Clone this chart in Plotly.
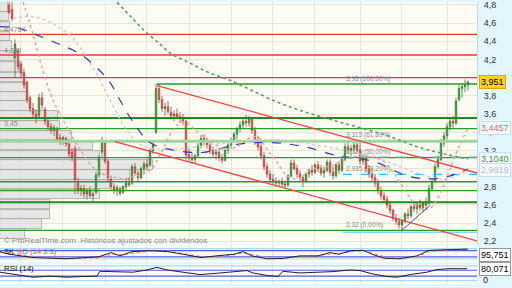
import plotly.graph_objects as go

# ---------------- price data (one entry per session, index 0..153) ----------------
opens = [4.80,4.75,4.22,4.30,4.15,4.05,3.95,3.78,3.66,3.60,3.58,3.78,3.65,3.52,3.46,3.42,3.44,3.34,3.30,3.33,
         3.27,3.18,3.22,2.86,2.76,2.78,2.72,2.75,2.70,2.74,2.93,3.18,3.28,3.08,2.88,2.80,2.76,2.78,2.74,2.80,
         2.84,2.84,3.02,2.95,2.90,3.00,3.05,3.04,3.20,3.40,3.88,3.76,3.66,3.68,3.62,3.58,3.60,3.57,3.56,3.52,
         3.15,3.12,3.10,3.14,3.25,3.33,3.30,3.26,3.20,3.16,3.18,3.12,3.09,3.20,3.26,3.30,3.38,3.44,3.48,3.52,
         3.50,3.54,3.42,3.30,3.24,3.14,3.02,2.94,2.88,2.86,2.84,2.86,2.83,2.82,2.92,3.06,3.00,2.94,2.90,2.86,
         2.94,2.98,2.96,3.04,3.00,2.95,2.98,3.07,2.96,2.92,3.04,2.98,3.10,3.24,3.20,3.22,3.26,3.20,3.08,3.12,
         3.00,2.94,2.90,2.84,2.76,2.70,2.66,2.60,2.54,2.45,2.42,2.38,2.42,2.50,2.48,2.58,2.56,2.60,2.57,2.62,
         2.62,2.78,2.86,3.02,3.10,3.28,3.36,3.46,3.52,3.50,3.76,3.88,3.90,3.92]
highs = [4.85,4.83,4.42,4.32,4.18,4.10,3.97,3.80,3.72,3.65,3.82,3.84,3.68,3.56,3.50,3.48,3.46,3.38,3.36,3.35,
         3.30,3.22,3.25,2.90,2.82,2.82,2.78,2.80,2.74,2.96,3.15,3.35,3.30,3.10,2.92,2.84,2.82,2.80,2.82,2.88,
         2.90,3.05,3.06,2.98,3.02,3.08,3.10,3.22,3.30,3.93,3.93,3.80,3.72,3.74,3.68,3.64,3.66,3.62,3.60,3.54,
         3.22,3.18,3.16,3.28,3.36,3.38,3.34,3.30,3.24,3.22,3.20,3.16,3.22,3.28,3.34,3.40,3.46,3.52,3.56,3.59,
         3.58,3.56,3.46,3.36,3.30,3.18,3.06,2.98,2.94,2.90,2.88,2.90,2.86,2.94,3.10,3.10,3.04,2.98,2.93,2.96,
         3.00,3.04,3.06,3.08,3.04,3.02,3.10,3.10,3.02,3.06,3.08,3.14,3.28,3.30,3.26,3.30,3.30,3.28,3.16,3.14,
         3.04,3.00,2.94,2.88,2.80,2.74,2.70,2.62,2.56,2.50,2.46,2.44,2.52,2.56,2.60,2.64,2.62,2.66,2.64,2.68,
         2.82,2.88,3.06,3.14,3.32,3.40,3.50,3.56,3.58,3.78,3.92,3.94,3.98,3.97]
lows = [4.70,4.62,4.00,4.08,4.00,3.88,3.72,3.62,3.55,3.50,3.55,3.66,3.48,3.42,3.38,3.36,3.30,3.26,3.26,3.24,
        3.12,3.08,2.72,2.72,2.70,2.68,2.66,2.68,2.64,2.72,2.90,3.12,3.05,2.85,2.76,2.72,2.70,2.70,2.72,2.76,
        2.80,2.82,2.92,2.86,2.88,2.94,2.98,3.02,3.16,3.38,3.72,3.62,3.58,3.60,3.54,3.52,3.55,3.50,3.48,3.10,
        3.08,3.05,3.06,3.12,3.22,3.26,3.22,3.16,3.12,3.10,3.08,3.06,3.08,3.16,3.22,3.28,3.32,3.40,3.44,3.46,
        3.46,3.38,3.26,3.20,3.10,2.98,2.90,2.84,2.82,2.80,2.80,2.80,2.78,2.80,2.90,2.98,2.90,2.86,2.80,2.84,
        2.90,2.92,2.94,2.96,2.92,2.90,2.96,2.92,2.88,2.90,2.94,2.96,3.08,3.16,3.14,3.18,3.18,3.04,3.04,2.96,
        2.90,2.86,2.80,2.72,2.66,2.62,2.56,2.50,2.42,2.38,2.34,2.31,2.40,2.44,2.46,2.52,2.50,2.54,2.52,2.56,
        2.60,2.76,2.84,3.00,3.08,3.24,3.32,3.42,3.44,3.48,3.74,3.78,3.84,3.86]
closes = [4.72,4.65,4.37,4.12,4.05,3.92,3.76,3.66,3.60,3.55,3.78,3.70,3.52,3.46,3.42,3.45,3.33,3.30,3.34,3.27,
          3.16,3.12,2.88,2.76,2.78,2.72,2.75,2.70,2.72,2.93,3.12,3.30,3.08,2.90,2.80,2.76,2.79,2.73,2.80,2.84,
          2.82,3.02,2.95,2.90,3.00,3.05,3.02,3.20,3.26,3.88,3.76,3.66,3.68,3.63,3.58,3.60,3.57,3.55,3.52,3.15,
          3.12,3.10,3.14,3.25,3.33,3.30,3.26,3.20,3.16,3.18,3.12,3.09,3.20,3.26,3.30,3.38,3.44,3.48,3.52,3.50,
          3.55,3.42,3.30,3.24,3.14,3.02,2.94,2.88,2.86,2.84,2.86,2.83,2.82,2.92,3.06,3.00,2.94,2.90,2.86,2.94,
          2.98,2.96,3.04,3.00,2.95,2.98,3.07,2.96,2.92,3.04,2.98,3.10,3.24,3.20,3.22,3.26,3.20,3.08,3.12,3.00,
          2.94,2.90,2.84,2.76,2.70,2.66,2.60,2.54,2.45,2.42,2.38,2.42,2.50,2.48,2.58,2.56,2.60,2.57,2.62,2.60,
          2.78,2.86,3.02,3.10,3.28,3.36,3.46,3.52,3.50,3.74,3.88,3.90,3.92,3.951]
sessions = list(range(len(closes)))

# ---------------- moving averages (session, price) ----------------
ma_green_x = [36, 40.3, 45.3, 50.3, 53.7, 60.3, 67, 73.7, 80.3, 88, 97, 110.3, 125.3, 137, 145.3, 153]
ma_green_y = [4.83, 4.68, 4.51, 4.37, 4.27, 4.16, 4.05, 3.97, 3.87, 3.75, 3.64, 3.51, 3.37, 3.23, 3.16, 3.104]
ma_blue_x = [-3, 3.7, 8.7, 16, 23.7, 30.3, 33.7, 37, 42, 47, 53.7, 64.7, 76, 87, 98, 110.3, 121.3, 132.7, 140.3, 147, 153]
ma_blue_y = [4.562, 4.54, 4.476, 4.378, 4.26, 4.076, 3.946, 3.751, 3.481, 3.286, 3.21, 3.178, 3.265, 3.286,
             3.243, 3.135, 3.081, 2.919, 2.886, 2.919, 2.995]
ma_grey_x = [1.3, 8, 14.7, 21.3, 28, 33.7, 38.7, 43.7, 50.3, 60.3, 73.7, 87, 97, 110.3, 123.7, 137, 145.3, 153]
ma_grey_y = [4.649, 4.67, 4.594, 4.432, 4.108, 3.751, 3.449, 3.265, 3.211, 3.232, 3.286, 3.319, 3.286, 3.211,
             3.103, 2.94, 2.886, 2.9819]
ma_pink_x = [4.7, 8, 11.3, 14.7, 18, 21.3, 24.7, 28, 31.3, 34.7, 38, 41.3, 44.7, 48, 51.3, 54.7, 58, 61.3, 64.7,
             68, 71.3, 76, 79.3, 82.7, 86, 89.3, 92.7, 96, 101.3, 107, 110.3, 116, 123.7, 128, 132.7, 137,
             140.3, 143.7, 147, 150.3, 153]
ma_pink_y = [4.832, 4.476, 4.076, 3.751, 3.535, 3.34, 3.157, 3.016, 2.94, 2.908, 2.886, 2.908, 2.94, 3.016,
             3.211, 3.427, 3.513, 3.449, 3.351, 3.286, 3.211, 3.243, 3.319, 3.351, 3.211, 3.07, 2.919, 2.886,
             2.994, 3.027, 3.07, 3.135, 3.103, 2.962, 2.724, 2.562, 2.562, 2.724, 2.994, 3.265, 3.4457]

# ---------------- horizontal levels ----------------
red_levels = [4.4764, 4.249, 4.00]
green_levels = [3.557, 3.44, 3.12, 2.855, 2.757, 2.32]
green_thick_levels = [3.557, 2.63]
light_green_level = 3.30
fib_prices = [3.93, 3.315, 3.125, 2.935, 2.32]
fib_labels = ["3,93 (100,00%)", "3,315 (61,80%)", "3,125 (50,00%)", "2,935 (38,20%)", "2,32 (0,00%)"]
fib_start = 111.3
peak_session = 49.3

# channel & trend lines (session, price) endpoints
chan_up_x = [49.3, 156]
chan_up_y = [3.913, 2.951]
chan_lo_x = [35.3, 156]
chan_lo_y = [3.297, 2.205]
trend_x = [130.7, 140.3]
trend_y = [2.313, 2.594]

# volume profile (price level, relative volume)
vp_price = [4.778, 4.67, 4.562, 4.454, 4.346, 4.238, 4.119, 4.0, 3.892, 3.795, 3.686, 3.578, 3.47, 3.362,
            3.254, 3.146, 3.038, 2.93, 2.822, 2.713, 2.605, 2.497, 2.389, 2.281]
vp_volume = [2.7, 3, 3.3, 3.3, 4, 4.7, 6.7, 8.3, 9, 9.3, 10, 19.3, 20, 24, 31, 33.3, 51, 43.3, 36.7, 33.3,
             16.7, 16.7, 14, 8.3]

# ---------------- indicators ----------------
stoch_x = [-3, 0, 8, 19, 30, 34, 37, 41, 47, 53, 58, 64, 69, 75, 78, 81, 86, 91, 97, 103, 107, 110, 114, 118,
           121, 125, 130, 136, 140, 147, 153]
stoch_k = [71, 46, 14, 2, 21, 62, 30, 71, 81, 71, 46, 14, 30, 46, 71, 30, 2, 5, 30, 30, 62, 46, 81, 84, 46, 8,
           2, 30, 84, 90, 95.751]
stoch_d = [65, 55, 22, 6, 12, 45, 42, 55, 78, 76, 55, 24, 22, 40, 60, 45, 12, 4, 20, 30, 50, 52, 70, 82, 60,
           20, 5, 20, 70, 88, 94]
rsi_x = [-3, 2.7, 8, 13.7, 19.3, 24.7, 29.3, 30.3, 36, 41.3, 46, 49.3, 52.7, 58, 63.7, 69.3, 74.7, 79.3, 81.3,
         86, 89.7, 91.3, 97, 102.7, 108, 113.7, 117, 121.3, 126, 129.3, 133.7, 139.3, 142.7, 147, 152.7]
rsi_v = [57, 39, 23, 30, 23, 28, 30, 63, 61, 57, 72, 90, 72, 57, 41, 50, 57, 68, 52, 35, 28, 63, 52, 57, 61,
         72, 68, 45, 28, 23, 41, 57, 75, 81, 80.071]

price_ticks = [4.8, 4.6, 4.4, 4.2, 4.0, 3.8, 3.6, 3.4, 3.2, 3.0, 2.8, 2.6, 2.4, 2.2]
price_tick_text = ["4,8", "4,6", "4,4", "4,2", "4", "3,8", "3,6", "3,4", "3,2", "3", "2,8", "2,6", "2,4", "2,2"]
grid_sessions = [3.7, 17.7, 32, 45.7, 60.3, 74.3, 87.7, 101.7, 117, 130.7, 146]

X0, X1 = -3, 156
FONT = "Liberation Sans"

fig = go.Figure()

# volume profile
fig.add_trace(go.Bar(orientation="h", y=vp_price, x=vp_volume, base=X0, width=0.104,
                     marker=dict(color="rgba(222,222,222,0.72)", line=dict(color="#a4a4a4", width=0.8)),
                     xaxis="x", yaxis="y", hoverinfo="skip", showlegend=False))

def hline(price, color, width, x0=X0, dash="solid"):
    fig.add_trace(go.Scatter(x=[x0, X1], y=[price, price], mode="lines",
                             line=dict(color=color, width=width, dash=dash),
                             xaxis="x", yaxis="y", hoverinfo="skip", showlegend=False))

for p in red_levels:
    hline(p, "#e8393a", 1.4)
hline(light_green_level, "#9fd39f", 3)
for p in green_levels:
    hline(p, "#2b9a2b", 1.3)
for p in green_thick_levels:
    hline(p, "#1f8a1f", 2)
hline(fib_prices[0], "#2b9a2b", 1.3, x0=peak_session)
hline(fib_prices[2], "#4ab8ee", 1.2, x0=fib_start, dash="dash")
hline(fib_prices[3], "#4ab8ee", 1.2, x0=fib_start, dash="dash")
hline(2.30, "#8fd3f2", 1.5, x0=fib_start)

# moving averages
def ma(xs, ys, color, dash="dot", width=1.3):
    fig.add_trace(go.Scatter(x=xs, y=ys, mode="lines", line=dict(color=color, width=width, dash=dash, shape="spline"),
                             xaxis="x", yaxis="y", hoverinfo="skip", showlegend=False))

ma(ma_green_x, ma_green_y, "#5a9e6a", "dot", 1.6)
ma(ma_grey_x, ma_grey_y, "#cfcfcf", "dot", 1.5)
ma(ma_blue_x, ma_blue_y, "#3b3bb0", "dash", 1.2)
ma(ma_pink_x, ma_pink_y, "#f09a9a", "dot", 1.4)

# channel / trend
fig.add_trace(go.Scatter(x=chan_up_x, y=chan_up_y, mode="lines", line=dict(color="#ee4444", width=1.3),
                         xaxis="x", yaxis="y", hoverinfo="skip", showlegend=False))
fig.add_trace(go.Scatter(x=chan_lo_x, y=chan_lo_y, mode="lines", line=dict(color="#ee4444", width=1.3),
                         xaxis="x", yaxis="y", hoverinfo="skip", showlegend=False))
fig.add_trace(go.Scatter(x=trend_x, y=trend_y, mode="lines", line=dict(color="#4a4ad0", width=1),
                         xaxis="x", yaxis="y", hoverinfo="skip", showlegend=False))

# candles
fig.add_trace(go.Candlestick(x=sessions, open=opens, high=highs, low=lows, close=closes,
                             increasing=dict(line=dict(color="#2d7d2d", width=0.8), fillcolor="#4fb04f"),
                             decreasing=dict(line=dict(color="#b83838", width=0.8), fillcolor="#ee6e6e"),
                             whiskerwidth=0, xaxis="x", yaxis="y", hoverinfo="skip", showlegend=False))

# stochastic panel
for lv, col in [(100, "#a9dcf2"), (80, "#5a5ae0"), (20, "#5a5ae0"), (0, "#a9dcf2")]:
    fig.add_trace(go.Scatter(x=[X0, X1], y=[lv, lv], mode="lines", line=dict(color=col, width=1.2),
                             xaxis="x2", yaxis="y2", hoverinfo="skip", showlegend=False))
fig.add_trace(go.Scatter(x=stoch_x, y=stoch_d, mode="lines", line=dict(color="#f08080", width=1.2, dash="dot"),
                         xaxis="x2", yaxis="y2", hoverinfo="skip", showlegend=False))
fig.add_trace(go.Scatter(x=stoch_x, y=stoch_k, mode="lines", line=dict(color="#222222", width=1),
                         xaxis="x2", yaxis="y2", hoverinfo="skip", showlegend=False))

# RSI panel
for lv, col in [(100, "#a9dcf2"), (70, "#5a5ae0"), (30, "#5a5ae0"), (0, "#a9dcf2")]:
    fig.add_trace(go.Scatter(x=[X0, X1], y=[lv, lv], mode="lines", line=dict(color=col, width=1.2),
                             xaxis="x3", yaxis="y3", hoverinfo="skip", showlegend=False))
fig.add_trace(go.Scatter(x=rsi_x, y=rsi_v, mode="lines", line=dict(color="#222222", width=1),
                         xaxis="x3", yaxis="y3", hoverinfo="skip", showlegend=False))

grid_col = "#e6e6dc"
xcommon = dict(range=[X0, X1], showticklabels=False, tickvals=grid_sessions, showgrid=True,
               gridcolor=grid_col, gridwidth=1, zeroline=False, ticks="", showline=False, fixedrange=True)

ann = []
def txt(x, y, s, color="#8a8a8a", size=7, xref="x", yref="y", xanchor="left", yanchor="bottom", **kw):
    ann.append(dict(x=x, y=y, text=s, xref=xref, yref=yref, xanchor=xanchor, yanchor=yanchor,
                    showarrow=False, font=dict(family=FONT, size=size, color=color), **kw))

txt(-2.4, 4.4764, "4,4764", yshift=-1)
txt(-2.4, 4.249, "4,249", yshift=-1)
txt(-2.4, 3.45, "3,45", yshift=-1)
for p, s in zip(fib_prices, fib_labels):
    txt(fib_start + 0.5, p, s, size=6.5, yshift=-1)
txt(-2.4, 2.205, "© ProRealTime.com  Históricos ajustados con dividendos", size=8, yanchor="middle",
    color="#8a8a8a")

# right-side value boxes
def box(y, s, fg, bg, border, yref="y"):
    ann.append(dict(x=1, xref="paper", y=y, yref=yref, xanchor="left", yanchor="middle", xshift=2,
                    text=s, showarrow=False, bgcolor=bg, bordercolor=border, borderwidth=1, borderpad=1,
                    font=dict(family=FONT, size=9, color=fg)))

box(3.951, "3,951", "#000000", "#ffd21a", "#d6a800")
box(3.4457, "3,4457", "#e86a6a", "#f2fbff", "#c8dfe8")
box(3.104, "3,1040", "#3a9a3a", "#f2fbff", "#c8dfe8")
box(2.9819, "2,9819", "#bdbdbd", "#f2fbff", "#c8dfe8")
box(1 - 257 / 288, "95,751", "#000000", "#ffffff", "#9a9a9a", yref="paper")
box(1 - 272 / 288, "80,071", "#000000", "#ffffff", "#9a9a9a", yref="paper")
ann.append(dict(x=1, xref="paper", y=1 - 283 / 288, yref="paper", xanchor="left", yanchor="middle", xshift=4,
                text="0", showarrow=False, font=dict(family=FONT, size=9, color="#222")))

ann.append(dict(x=0.004, xref="paper", y=1 - 254 / 288, yref="paper", xanchor="left", yanchor="middle",
                text="<span style='color:#111'>SK</span> <span style='color:#e05050'>%D (14 3 3)</span>",
                showarrow=False, font=dict(family=FONT, size=7.5)))
ann.append(dict(x=0.004, xref="paper", y=1 - 271 / 288, yref="paper", xanchor="left", yanchor="middle",
                text="RSI (14)", showarrow=False, font=dict(family=FONT, size=8, color="#111")))

fig.update_layout(
    width=512, height=288, autosize=False,
    margin=dict(l=0, r=35, t=0, b=0),
    paper_bgcolor="#e3f6fd", plot_bgcolor="#fcfcf3",
    separators=",.",
    bargap=0,
    showlegend=False,
    xaxis=dict(domain=[0, 1], anchor="y", rangeslider=dict(visible=False), **xcommon),
    xaxis2=dict(domain=[0, 1], anchor="y2", **xcommon),
    xaxis3=dict(domain=[0, 1], anchor="y3", **xcommon),
    yaxis=dict(domain=[1 - 246 / 288, 1], range=[2.173, 4.832], side="right", tickvals=price_ticks,
               ticktext=price_tick_text, showgrid=True, gridcolor=grid_col, zeroline=False, ticks="",
               ticklabelstandoff=4, ticklabeloverflow="allow",
               tickfont=dict(family=FONT, size=9, color="#333"), fixedrange=True,
               showline=True, linecolor="#b8dcea", linewidth=1),
    yaxis2=dict(domain=[1 - 265 / 288, 1 - 247 / 288], range=[-33, 138], showticklabels=False,
                showgrid=False, zeroline=False, fixedrange=True),
    yaxis3=dict(domain=[1 - 287 / 288, 1 - 267 / 288], range=[-23, 110], showticklabels=False,
                showgrid=False, zeroline=False, fixedrange=True),
    annotations=ann,
)

fig.write_html("out.html", config=dict(displayModeBar=False))
